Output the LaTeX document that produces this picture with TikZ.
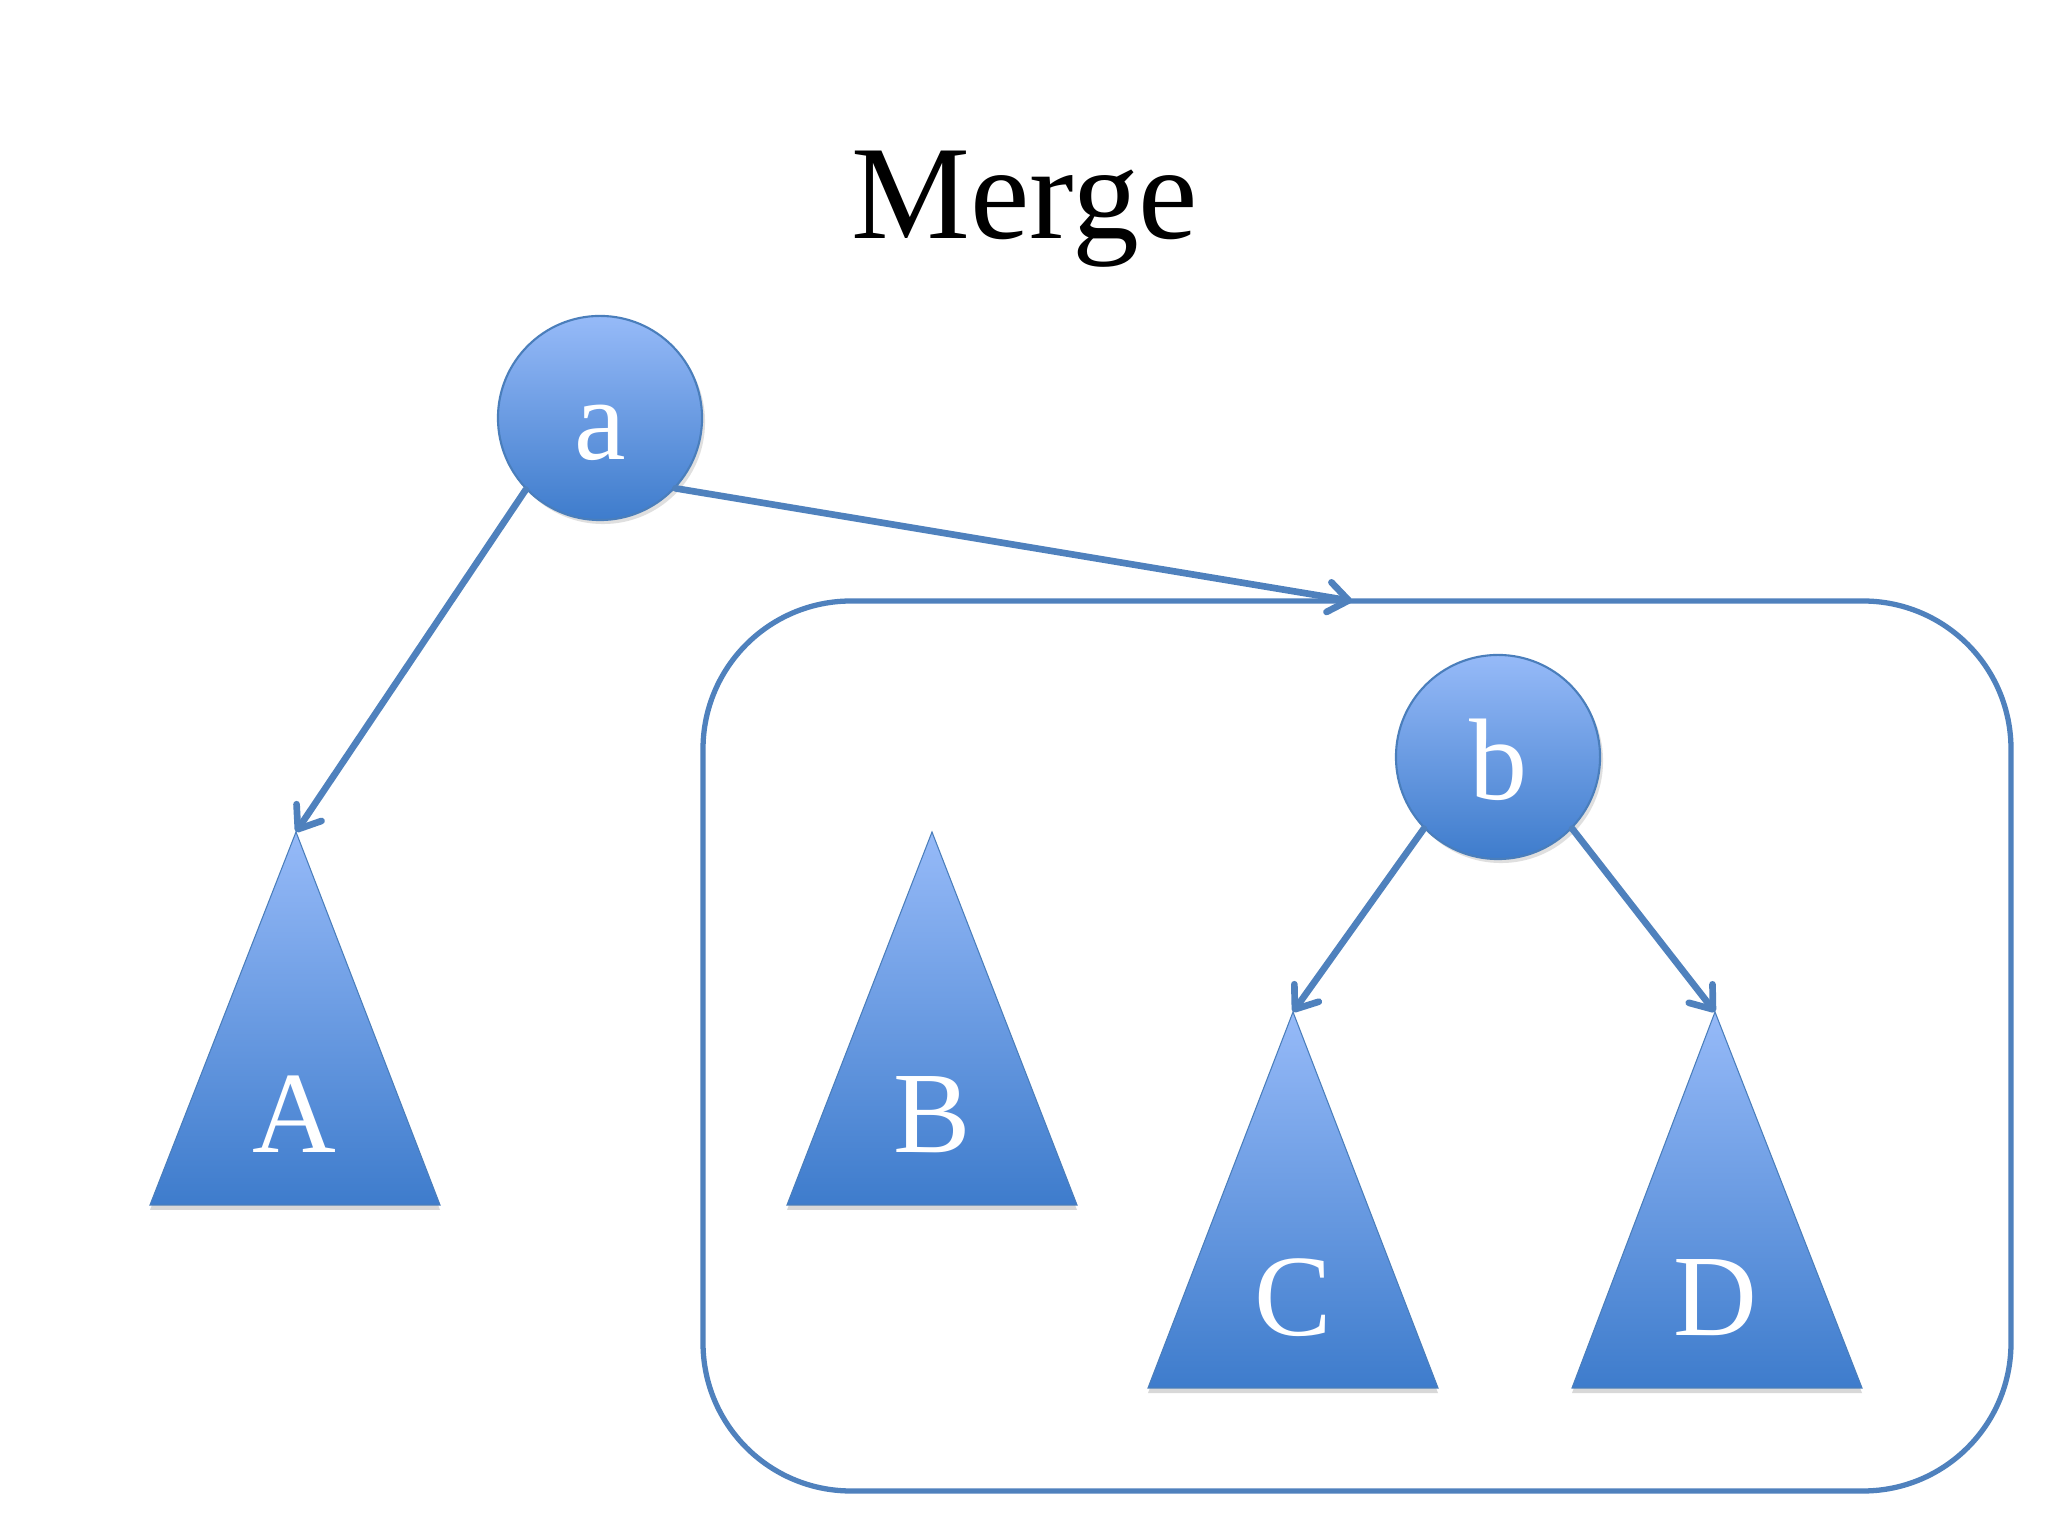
\documentclass[tikz,border=0pt]{standalone}
\usepackage{fontspec}
\setmainfont{Liberation Serif}
\usetikzlibrary{arrows.meta,shadows}
\definecolor{lt}{RGB}{150,186,248}
\definecolor{dk}{RGB}{62,124,204}
\definecolor{edge}{RGB}{74,126,187}
\definecolor{ln}{RGB}{79,129,189}
\tikzset{
  treenode/.style={circle, draw=edge, line width=0.6pt, top color=lt, bottom color=dk,
    minimum size=2.04cm, inner sep=0pt,
    drop shadow={shadow xshift=0.03cm, shadow yshift=-0.04cm, opacity=0.25}},
  subtree/.style={top color=lt, bottom color=dk, draw=edge, line width=0.3pt,
    drop shadow={shadow xshift=0.0cm, shadow yshift=-0.05cm, opacity=0.3}},
  lbl/.style={text=white, font=\fontsize{33}{36}\selectfont, anchor=base, inner sep=0pt},
  conn/.style={draw=ln, line width=1.9pt, line cap=round, -{Straight Barb[length=0.2cm, width=0.3cm, round]}},
  frame/.style={draw=ln, line width=1.5pt, rounded corners=1.48cm}
}
\begin{document}
\begin{tikzpicture}[x=0.01cm, y=0.01cm]
\useasboundingbox[fill=white] (0,0) rectangle (2048,1536);
\node[anchor=base, inner sep=0pt, font=\fontsize{38}{44}\selectfont] (title) at (1025,1297) {Merge};

% frame
\draw[frame] (703,45) rectangle (2011,935);
\coordinate (boxpt) at (1352,935);

% subtrees
\shade[subtree] (296,704) -- (440,331) -- (150,331) -- cycle;
\coordinate (Atop) at (296,704);
\node[lbl] (Alab) at (294,383) {A};

\shade[subtree] (932,704) -- (1077,331) -- (787,331) -- cycle;
\coordinate (Btop) at (932,704);
\node[lbl] (Blab) at (932,383) {B};

\shade[subtree] (1293,524) -- (1438,148) -- (1148,148) -- cycle;
\coordinate (Ctop) at (1293,524);
\node[lbl] (Clab) at (1293,200) {C};

\shade[subtree] (1715,524) -- (1862,148) -- (1572,148) -- cycle;
\coordinate (Dtop) at (1715,524);
\node[lbl] (Dlab) at (1715,200) {D};

% nodes
\node[treenode] (a) at (600,1118) {};
\node[lbl] (alab) at (600,1076) {a};
\node[treenode] (b) at (1498,779) {};
\node[lbl] (blab) at (1498,736) {b};

% connectors
\draw[conn] (a.224) -- (Atop);
\draw[conn] (a.-43) -- (boxpt);
\draw[conn] (b.224) -- (Ctop);
\draw[conn] (b.-44) -- (Dtop);
\end{tikzpicture}
\end{document}
